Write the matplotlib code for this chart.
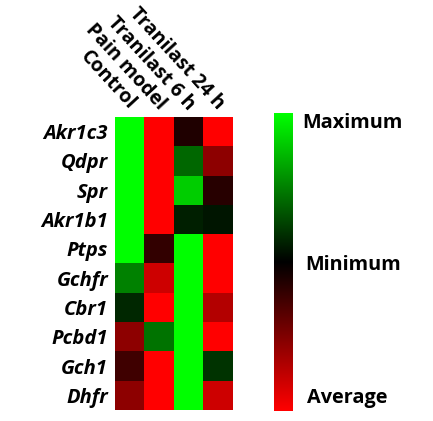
import numpy as np
import matplotlib
matplotlib.use("Agg")
from matplotlib import pyplot as plt
from matplotlib.colors import LinearSegmentedColormap

W, H = 433, 421

genes = ['Akr1c3', 'Qdpr', 'Spr', 'Akr1b1', 'Ptps',
         'Gchfr', 'Cbr1', 'Pcbd1', 'Gch1', 'Dhfr']
groups = ['Control', 'Pain model', 'Tranilast 6 h', 'Tranilast 24 h']

# relative expression, -1 = red, 0 = black, 1 = green
control = [1.0, 1.0, 1.0, 1.0, 1.0, 0.5, 0.15, -0.55, -0.25, -0.55]
pain_model = [-1.0, -1.0, -1.0, -1.0, -0.2, -0.8, -1.0, 0.45, -1.0, -1.0]
tranilast_6h = [-0.12, 0.4, 0.8, 0.12, 1.0, 1.0, 1.0, 1.0, 1.0, 1.0]
tranilast_24h = [-1.0, -0.55, -0.15, 0.08, -1.0, -1.0, -0.7, -1.0, 0.2, -0.8]

bar_labels = ['Maximum', 'Minimum', 'Average']

cmap = LinearSegmentedColormap.from_list('rg', ['#ff0000', '#000000', '#00ff00'])

mat = np.array([control, pain_model, tranilast_6h, tranilast_24h]).T

fig = plt.figure(figsize=(W / 100, H / 100), dpi=100)


def px_axes(x0, y0, x1, y1):
    return fig.add_axes([x0 / W, 1 - y1 / H, (x1 - x0) / W, (y1 - y0) / H])


ax = px_axes(115, 117, 233, 410)
ax.imshow(mat, cmap=cmap, vmin=-1, vmax=1, aspect='auto', interpolation='nearest')
ax.set_xticks([])
ax.set_yticks(range(len(genes)))
ax.set_yticklabels(genes, fontsize=14.5, fontweight='bold', style='italic',
                   family='Open Sans')
ax.tick_params(axis='y', length=0, pad=5)
for s in ax.spines.values():
    s.set_visible(False)

for i, g in enumerate(groups):
    ax.text(i - 0.15, -0.6, g, rotation=-47.5, rotation_mode='anchor',
            ha='right', va='bottom', fontsize=14, fontweight='bold',
            family='Open Sans')

# colour bar
cax = px_axes(274, 113, 293, 411)
grad = np.linspace(1, -1, 256).reshape(-1, 1)
cax.imshow(grad, cmap=cmap, vmin=-1, vmax=1, aspect='auto')
cax.axis('off')

for lab, ypx, xpx in zip(bar_labels, [123, 265, 398], [302, 305, 307]):
    fig.text(xpx / W, 1 - ypx / H, lab, ha='left', va='center',
             fontsize=14.3, fontweight='bold', family='Open Sans')

fig.savefig('out.png', dpi=100)
